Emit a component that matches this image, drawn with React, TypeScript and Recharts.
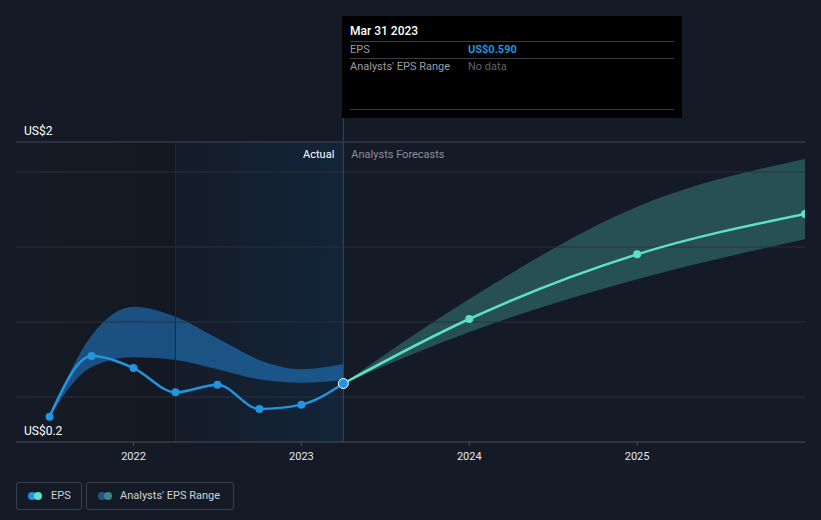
import React from "react";
import {
  ComposedChart,
  Line,
  Area,
  XAxis,
  YAxis,
  ReferenceLine,
  ReferenceArea,
} from "recharts";

// ---- data ----
const periods = [2021.5, 2021.75, 2022.0, 2022.25, 2022.5, 2022.75, 2023.0, 2023.25, 2024.0, 2025.0, 2026.0];
const epsActual = [0.369, 0.773, 0.693, 0.531, 0.582, 0.42, 0.449, 0.59, null, null, null];
const pastRangeLow = [0.369, 0.7, 0.765, 0.747, 0.685, 0.618, 0.595, 0.613, null, null, null];
const pastRangeHigh = [0.369, 0.91, 1.102, 1.035, 0.891, 0.747, 0.685, 0.72, null, null, null];
const epsForecast = [null, null, null, null, null, null, null, 0.59, 1.02, 1.451, 1.72];
const fcRangeLow = [null, null, null, null, null, null, null, 0.59, 0.933, 1.285, 1.551];
const fcRangeHigh = [null, null, null, null, null, null, null, 0.59, 1.153, 1.769, 2.087];

const xTicks = [2022, 2023, 2024, 2025];
const yLabelValues = [0.2, 2.2];
const gridValues = [0.5, 1.0, 1.5, 2.0];
const topLine = 2.2;
const xDomain = [2021.3, 2026.0];
const yDomain = [0.2, 2.2];
const actualStart = 2022.25;
const todayX = 2023.25;
const tooltipBottomY = 2.36;

const data = periods.map((p, i) => ({
  x: p,
  eps: epsActual[i],
  range: pastRangeLow[i] != null ? [pastRangeLow[i], pastRangeHigh[i]] : undefined,
  forecast: epsForecast[i],
  fcRange: fcRangeLow[i] != null ? [fcRangeLow[i], fcRangeHigh[i]] : undefined,
}));

const FONT = "Roboto, 'Noto Sans', sans-serif";
const BG = "#151b26";
const BLUE = "#2394df";
const AQUA = "#5ce1c8";

const fmtY = (v: number) => "US$" + Number(v.toPrecision(1));

const YLabel = (props: any) => {
  const { viewBox, value } = props;
  return (
    <text x={viewBox.x + 8} y={viewBox.y - 7} fill="#ffffff" fontSize={12} fontFamily={FONT} textAnchor="start">
      {value}
    </text>
  );
};

const XTick = (props: any) => {
  const { x, y, payload } = props;
  return (
    <text x={x} y={y + 12} fill="#e6e8eb" fontSize={11} fontFamily={FONT} textAnchor="middle">
      {payload.value}
    </text>
  );
};

const EpsDot = (props: any) => {
  const { cx, cy, index, payload } = props;
  if (payload.eps == null || cx == null) return null;
  if (payload.x === todayX) {
    return <circle key={"e" + index} cx={cx} cy={cy} r={5} fill={BLUE} stroke="#ffffff" strokeWidth={1} />;
  }
  return <circle key={"e" + index} cx={cx} cy={cy} r={4} fill={BLUE} />;
};

const FcDot = (props: any) => {
  const { cx, cy, index, payload } = props;
  if (payload.forecast == null || cx == null || payload.x === todayX) return null;
  return <circle key={"f" + index} cx={cx} cy={cy} r={4} fill={AQUA} />;
};

const DividerLabel = (props: any) => {
  const { viewBox } = props;
  const right = viewBox.x + viewBox.width;
  const ty = viewBox.y + 16;
  return (
    <g>
      <text x={right - 9} y={ty} fill="#ffffff" fontSize={11} fontFamily={FONT} textAnchor="end">
        Actual
      </text>
      <text x={right + 8} y={ty} fill="#8a8f98" fontSize={11} fontFamily={FONT} textAnchor="start">
        Analysts Forecasts
      </text>
    </g>
  );
};

export default function App() {
  return (
    <div
      style={{
        position: "absolute",
        left: 0,
        top: 0,
        width: 821,
        height: 520,
        background: BG,
        fontFamily: FONT,
        overflow: "hidden",
      }}
    >
      <ComposedChart
        width={821}
        height={520}
        data={data}
        margin={{ top: 142, right: 16, bottom: 48, left: 16 }}
      >
        <defs>
          <linearGradient id="pastShade" x1="0" y1="0" x2="1" y2="0">
            <stop offset="0%" stopColor="#0a0d12" stopOpacity={0} />
            <stop offset="100%" stopColor="#0a0d12" stopOpacity={0.45} />
          </linearGradient>
          <linearGradient id="actualShade" x1="0" y1="0" x2="1" y2="0">
            <stop offset="0%" stopColor="#0e3a66" stopOpacity={0.08} />
            <stop offset="100%" stopColor="#0e3a66" stopOpacity={0.6} />
          </linearGradient>
        </defs>
        <XAxis
          type="number"
          dataKey="x"
          domain={xDomain}
          ticks={xTicks}
          allowDataOverflow
          height={30}
          axisLine={{ stroke: "#4a4f58", strokeWidth: 1 }}
          tickLine={{ stroke: "#4a4f58" }}
          tickSize={4}
          tick={<XTick />}
        />
        <YAxis type="number" domain={yDomain} allowDataOverflow hide width={0} />
        <ReferenceArea
          x1={xDomain[0]}
          x2={actualStart}
          y1={yDomain[0]}
          y2={yDomain[1]}
          fill="url(#pastShade)"
          stroke="none"
        />
        <ReferenceArea
          x1={actualStart}
          x2={todayX}
          y1={yDomain[0]}
          y2={yDomain[1]}
          fill="url(#actualShade)"
          stroke="none"
          label={<DividerLabel />}
        />
        {gridValues.map((g) => (
          <ReferenceLine key={g} y={g} stroke="#2a303a" strokeWidth={1} />
        ))}
        <ReferenceLine y={topLine} stroke="#444953" strokeWidth={1} />
        {yLabelValues.map((v) => (
          <ReferenceLine
            key={"yl" + v}
            y={v}
            stroke="none"
            label={<YLabel value={fmtY(v)} />}
          />
        ))}
        <ReferenceLine x={actualStart} stroke="#1c2a3b" strokeWidth={1} />
        <ReferenceLine
          segment={[
            { x: todayX, y: yDomain[0] },
            { x: todayX, y: tooltipBottomY },
          ]}
          ifOverflow="visible"
          stroke="#1d4e78"
          strokeWidth={1}
        />
        <Area
          type="monotone"
          dataKey="range"
          stroke="none"
          fill="#2180cf"
          fillOpacity={0.55}
          isAnimationActive={false}
          connectNulls={false}
          activeDot={false}
        />
        <Area
          type="monotone"
          dataKey="fcRange"
          stroke="none"
          fill="#4bb5a5"
          fillOpacity={0.35}
          isAnimationActive={false}
          connectNulls={false}
          activeDot={false}
        />
        <Line
          type="monotone"
          dataKey="forecast"
          stroke={AQUA}
          strokeWidth={2.5}
          dot={<FcDot />}
          activeDot={false}
          isAnimationActive={false}
          connectNulls={false}
        />
        <Line
          type="monotone"
          dataKey="eps"
          stroke={BLUE}
          strokeWidth={2.5}
          dot={<EpsDot />}
          activeDot={false}
          isAnimationActive={false}
          connectNulls={false}
        />
      </ComposedChart>

      {/* tooltip box */}
      <div
        style={{
          position: "absolute",
          left: 342,
          top: 16,
          width: 340,
          height: 102,
          background: "#000000",
        }}
      >
        <div style={{ position: "absolute", left: 8, top: 7, fontSize: 12, fontWeight: 500, color: "#ffffff", lineHeight: "16px" }}>
          Mar 31 2023
        </div>
        <div style={{ position: "absolute", left: 8, right: 8, top: 25, height: 1, background: "#3a3d42" }} />
        <div style={{ position: "absolute", left: 8, top: 26, fontSize: 11, color: "#9a9ea5", lineHeight: "16px" }}>EPS</div>
        <div style={{ position: "absolute", left: 126, top: 26, fontSize: 11, fontWeight: 700, color: BLUE, lineHeight: "16px" }}>
          US$0.590
        </div>
        <div style={{ position: "absolute", left: 8, right: 8, top: 42, height: 1, background: "#3a3d42" }} />
        <div style={{ position: "absolute", left: 8, top: 43, fontSize: 11, color: "#9a9ea5", lineHeight: "16px" }}>
          Analysts' EPS Range
        </div>
        <div style={{ position: "absolute", left: 126, top: 43, fontSize: 11, color: "#5f6369", lineHeight: "16px" }}>
          No data
        </div>
        <div style={{ position: "absolute", left: 8, right: 8, top: 93, height: 1, background: "#3a3d42" }} />
      </div>

      {/* legend */}
      <div
        style={{
          position: "absolute",
          left: 16,
          top: 482,
          width: 64,
          height: 26,
          border: "1px solid #3b404a",
          borderRadius: 3,
        }}
      >
        <div style={{ position: "absolute", left: 11, top: 8.5, width: 8, height: 8, borderRadius: 4, background: BLUE }} />
        <div style={{ position: "absolute", left: 17, top: 8.5, width: 8, height: 8, borderRadius: 4, background: AQUA }} />
        <div style={{ position: "absolute", left: 34, top: 5, fontSize: 11, color: "#cfd3d8", lineHeight: "16px" }}>EPS</div>
      </div>
      <div
        style={{
          position: "absolute",
          left: 86,
          top: 482,
          width: 146,
          height: 26,
          border: "1px solid #3b404a",
          borderRadius: 3,
        }}
      >
        <div style={{ position: "absolute", left: 11, top: 8.5, width: 8, height: 8, borderRadius: 4, background: "#1f5a88" }} />
        <div style={{ position: "absolute", left: 17, top: 8.5, width: 8, height: 8, borderRadius: 4, background: "#3d8580" }} />
        <div style={{ position: "absolute", left: 33, top: 5, fontSize: 11, color: "#cfd3d8", lineHeight: "16px" }}>
          Analysts' EPS Range
        </div>
      </div>
    </div>
  );
}
